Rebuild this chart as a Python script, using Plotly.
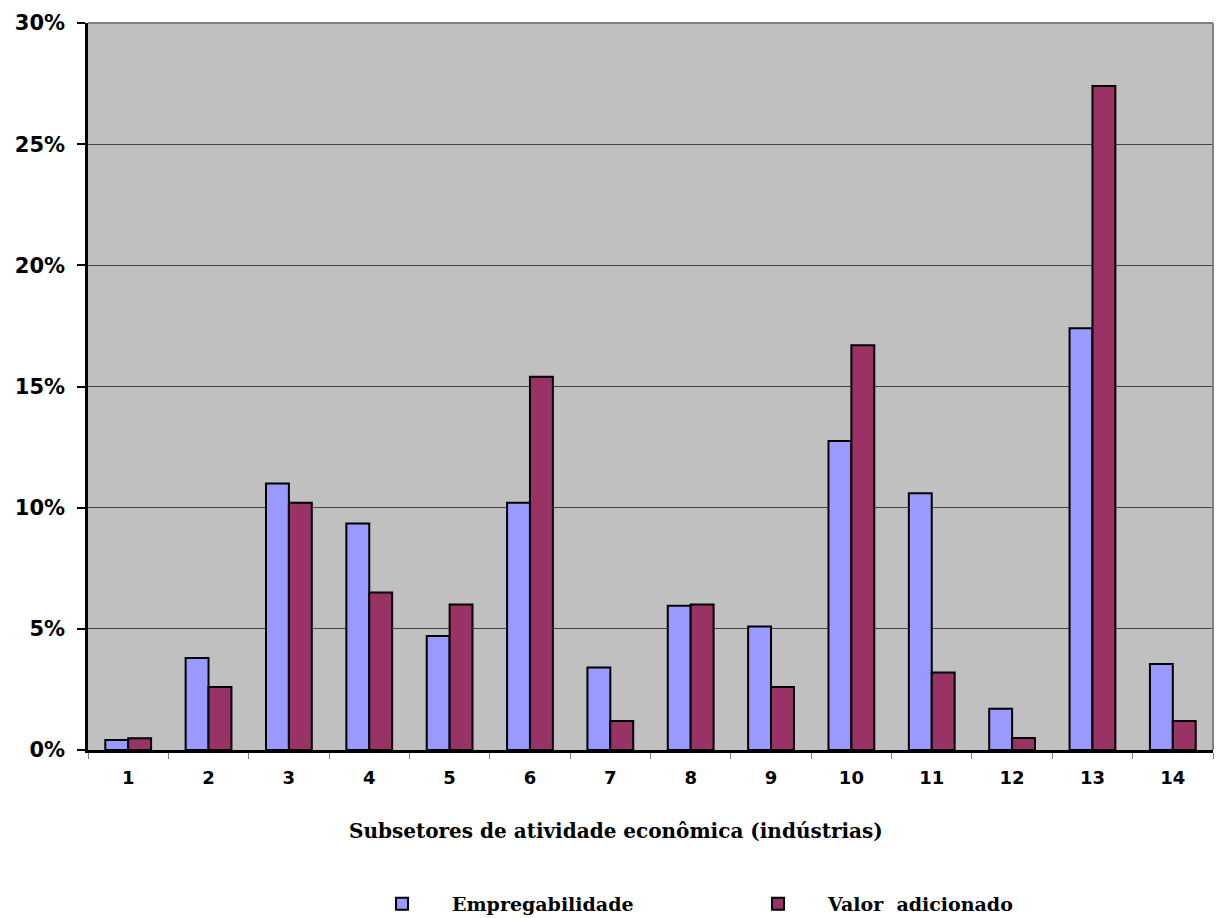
import plotly.graph_objects as go

# Subsetores (indústrias) e participação percentual
categorias = ["1", "2", "3", "4", "5", "6", "7", "8", "9", "10", "11", "12", "13", "14"]
empregabilidade = [0.41, 3.8, 11.0, 9.35, 4.7, 10.2, 3.4, 5.95, 5.1, 12.75, 10.6, 1.7, 17.4, 3.55]
valor_adicionado = [0.49, 2.6, 10.2, 6.5, 6.0, 15.4, 1.2, 6.0, 2.6, 16.7, 3.2, 0.5, 27.4, 1.2]
ticks_y = [0, 5, 10, 15, 20, 25, 30]
ticks_y_txt = [f"{v}%" for v in ticks_y]
titulo_x = "Subsetores de atividade econômica (indústrias)"

serif = "DejaVu Serif"
sans = "DejaVu Sans"

fig = go.Figure()
fig.add_trace(go.Bar(
    x=categorias, y=empregabilidade, name="<b>Empregabilidade</b>",
    marker=dict(color="#9999FF", line=dict(color="black", width=2)),
))
fig.add_trace(go.Bar(
    x=categorias, y=valor_adicionado, name="<b>Valor  adicionado</b>",
    marker=dict(color="#993366", line=dict(color="black", width=2)),
))

fig.update_layout(
    width=1219, height=918,
    margin=dict(l=88, r=6, t=23, b=168, autoexpand=False),
    paper_bgcolor="white",
    plot_bgcolor="#C0C0C0",
    barmode="group",
    bargap=0.43,
    bargroupgap=0,
    showlegend=True,
    legend=dict(
        orientation="h",
        x=0.2347, xanchor="left",
        y=-0.2118, yanchor="middle",
        font=dict(family=serif, size=19, color="black"),
        itemwidth=90,
        entrywidth=271, entrywidthmode="pixels",
        bgcolor="rgba(0,0,0,0)",
    ),
    shapes=[
        dict(type="line", xref="paper", yref="paper", x0=0, x1=1, y0=1, y1=1,
             line=dict(color="#808080", width=2)),
        dict(type="line", xref="paper", yref="paper", x0=1, x1=1, y0=0, y1=1,
             line=dict(color="#808080", width=2)),
    ],
    annotations=[
        dict(text=f"<b>{titulo_x}</b>", xref="paper", yref="paper",
             x=0.4693, y=-0.1110, xanchor="center", yanchor="middle",
             showarrow=False, font=dict(family=serif, size=20, color="black")),
    ],
)

fig.update_xaxes(
    type="category",
    showline=True, linecolor="black", linewidth=2.5,
    tickson="boundaries", ticks="outside", ticklen=6, tickcolor="#808080", tickwidth=1,
    tickfont=dict(family=sans, size=18, color="black", weight="bold"),
    ticklabelstandoff=10,
    showgrid=False,
)
fig.update_yaxes(
    range=[0, 30],
    tickvals=ticks_y, ticktext=ticks_y_txt,
    showline=True, linecolor="black", linewidth=2.5,
    ticks="outside", ticklen=8, tickcolor="black", tickwidth=2,
    tickfont=dict(family=sans, size=21, color="black", weight="bold"),
    ticklabelstandoff=8,
    showgrid=True, gridcolor="#444444", gridwidth=1,
    zeroline=False,
)

fig.write_html("out.html")
